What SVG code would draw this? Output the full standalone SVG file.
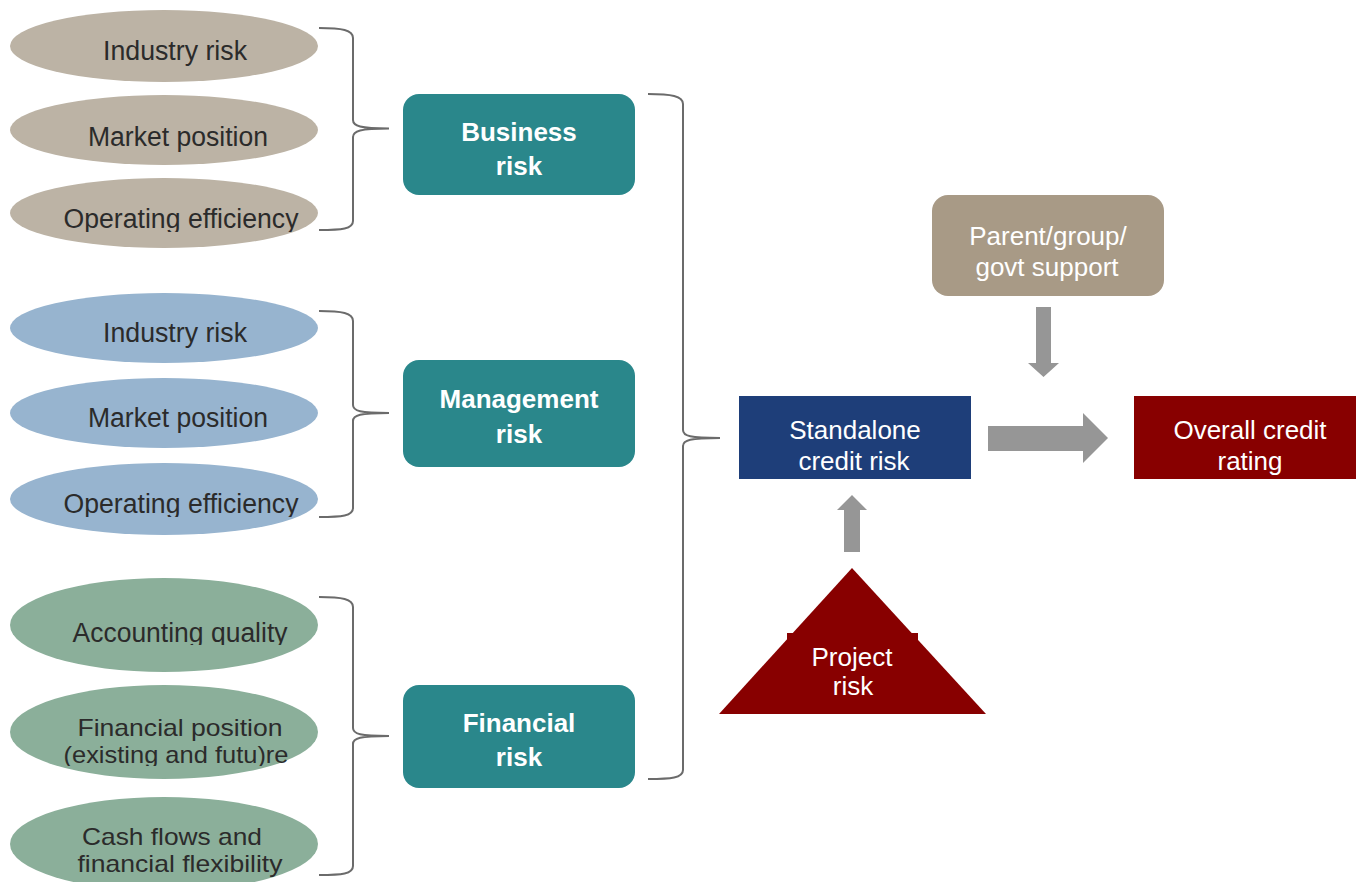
<svg xmlns="http://www.w3.org/2000/svg" width="1356" height="882" viewBox="0 0 1356 882">
<style>
.et{font-family:"Liberation Sans",Arial,sans-serif;font-size:27px;fill:#2b2b2b;text-anchor:middle}
.et2{font-family:"Liberation Sans",Arial,sans-serif;font-size:24px;fill:#2b2b2b;text-anchor:middle}
.bt{font-family:"Liberation Sans",Arial,sans-serif;font-size:26px;font-weight:bold;fill:#ffffff;text-anchor:middle}
.wt{font-family:"Liberation Sans",Arial,sans-serif;font-size:26px;fill:#ffffff;text-anchor:middle}
.beige{fill:#BCB3A5}
.blue{fill:#97B4CF}
.green{fill:#8BAF9A}
.teal{fill:#2A878B}
.brace{fill:none;stroke:#6b6b6b;stroke-width:2}
.arr{fill:#969696}
</style>
<defs>
<clipPath id="clipA"><rect x="0" y="0" width="400" height="232"/></clipPath>
<clipPath id="clipB"><rect x="0" y="0" width="400" height="517"/></clipPath>
<clipPath id="clipC"><rect x="0" y="0" width="400" height="645"/></clipPath>
<clipPath id="clipD"><rect x="0" y="0" width="400" height="766"/></clipPath>
</defs>
<rect width="1356" height="882" fill="#ffffff"/>

<g id="g1-industry"><ellipse class="beige" cx="164" cy="46" rx="154" ry="36"/><text class="et" x="175" y="60" textLength="144" lengthAdjust="spacingAndGlyphs">Industry risk</text></g>
<g id="g1-market"><ellipse class="beige" cx="164" cy="130" rx="154" ry="35"/><text class="et" x="178" y="146" textLength="180" lengthAdjust="spacingAndGlyphs">Market position</text></g>
<g id="g1-operating"><ellipse class="beige" cx="164" cy="213" rx="154" ry="35"/><text class="et" x="181" y="228" textLength="235" lengthAdjust="spacingAndGlyphs" clip-path="url(#clipA)">Operating efficiency</text></g>

<g id="g2-industry"><ellipse class="blue" cx="164" cy="328" rx="154" ry="35"/><text class="et" x="175" y="342" textLength="144" lengthAdjust="spacingAndGlyphs">Industry risk</text></g>
<g id="g2-market"><ellipse class="blue" cx="164" cy="413" rx="154" ry="35"/><text class="et" x="178" y="427" textLength="180" lengthAdjust="spacingAndGlyphs">Market position</text></g>
<g id="g2-operating"><ellipse class="blue" cx="164" cy="499" rx="154" ry="36"/><text class="et" x="181" y="513" textLength="235" lengthAdjust="spacingAndGlyphs" clip-path="url(#clipB)">Operating efficiency</text></g>

<g id="g3-accounting"><ellipse class="green" cx="164" cy="625" rx="154" ry="47"/><text class="et" x="180" y="642" textLength="215" lengthAdjust="spacingAndGlyphs" clip-path="url(#clipC)">Accounting quality</text></g>
<g id="g3-finpos"><ellipse class="green" cx="164" cy="732" rx="154" ry="47"/><text class="et2" clip-path="url(#clipD)"><tspan x="180" y="736" textLength="205" lengthAdjust="spacingAndGlyphs">Financial position</tspan><tspan x="176" y="763" textLength="225" lengthAdjust="spacingAndGlyphs">(existing and futu)re</tspan></text></g>
<g id="g3-cashflows"><ellipse class="green" cx="164" cy="844" rx="154" ry="47"/><text class="et2"><tspan x="172" y="845" textLength="180" lengthAdjust="spacingAndGlyphs">Cash flows and</tspan><tspan x="180" y="872" textLength="205" lengthAdjust="spacingAndGlyphs">financial flexibility</tspan></text></g>

<g id="business-risk"><rect class="teal" x="403" y="94" width="232" height="101" rx="16"/><text class="bt"><tspan x="519" y="141">Business</tspan><tspan x="519" y="175">risk</tspan></text></g>
<g id="management-risk"><rect class="teal" x="403" y="360" width="232" height="107" rx="16"/><text class="bt"><tspan x="519" y="408">Management</tspan><tspan x="519" y="443">risk</tspan></text></g>
<g id="financial-risk"><rect class="teal" x="403" y="685" width="232" height="103" rx="16"/><text class="bt"><tspan x="519" y="732">Financial</tspan><tspan x="519" y="766">risk</tspan></text></g>

<g id="parent-support"><rect x="932" y="195" width="232" height="101" rx="16" fill="#A89A86"/><text class="wt"><tspan x="1048" y="245">Parent/group/</tspan><tspan x="1047" y="276">govt support</tspan></text></g>
<g id="standalone"><rect x="739" y="396" width="232" height="83" fill="#1E3E79"/><text class="wt"><tspan x="855" y="439">Standalone</tspan><tspan x="854" y="470">credit risk</tspan></text></g>
<g id="overall-rating"><rect x="1134" y="396" width="222" height="83" fill="#880000"/><text class="wt"><tspan x="1250" y="439">Overall credit</tspan><tspan x="1250" y="470">rating</tspan></text></g>
<g id="project-risk"><polygon points="852,568 986,714 719,714" fill="#880000"/><rect x="787" y="633" width="8" height="8" fill="#880000"/><rect x="910" y="633" width="8" height="8" fill="#880000"/><text class="wt"><tspan x="852" y="666">Project</tspan><tspan x="853" y="695">risk</tspan></text></g>

<g id="connectors">
<path class="brace" d="M319,28 C342,28 353,30 353,38 L353,120 C353,126 360,128.5 389,128.5 C360,128.5 353,131 353,137 L353,221 C353,229 342,230 319,230"/>
<path class="brace" d="M319,311 C342,311 353,313 353,321 L353,405 C353,411 360,413 389,413 C360,413 353,415 353,421 L353,508 C353,516 342,517 319,517"/>
<path class="brace" d="M319,597 C342,597 353,599 353,607 L353,728 C353,734 360,736 389,736 C360,736 353,738 353,744 L353,866 C353,874 342,875 319,875"/>
<path class="brace" d="M648,94 C671,94 683,96 683,104 L683,430 C683,436 690,438 720,438 C690,438 683,440 683,446 L683,770 C683,778 671,779 648,779"/>
<polygon class="arr" points="1036,307 1051,307 1051,363 1059,363 1043.5,377 1028,363 1036,363"/>
<polygon class="arr" points="988,426 1083,426 1083,413 1108,438 1083,463 1083,451 988,451"/>
<polygon class="arr" points="852,495 867,510 860,510 860,552 844,552 844,510 837,510"/>
</g>
</svg>
